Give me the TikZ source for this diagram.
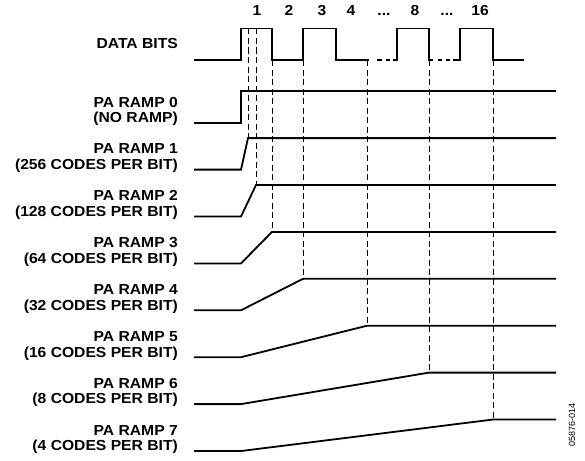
\documentclass[tikz,border=0pt]{standalone}
\usepackage{fontspec}
\setmainfont[FakeStretch=1.08]{Liberation Sans}
\newfontfamily\idfont{Liberation Sans}
\usetikzlibrary{positioning}

\begin{document}
\begin{tikzpicture}[
    x=1pt, y=-1pt,
    sig/.style={line width=1.8pt, line join=miter},
    guide/.style={line width=0.9pt, dash pattern=on 6pt off 3.5pt},
    lbl/.style={
        font=\fontsize{14.5}{15.5}\selectfont\bfseries, align=right,
        inner sep=0pt, text depth=0pt, anchor=south east
    },
    bitnum/.style={font=\fontsize{14.5}{15.5}\selectfont\bfseries, inner sep=0pt, anchor=base},
]
\useasboundingbox (0,0) rectangle (585,460);

% Data bit levels
\def\lo{60}
\def\hi{28.5}

% Label edge and line start
\def\lx{178}
\def\sx{194}

% ====== BIT NUMBERS ======
\node[bitnum] (n1) at (257,16) {1};
\node[bitnum] (n2) at (289,16) {2};
\node[bitnum] (n3) at (322,16) {3};
\node[bitnum] (n4) at (351,16) {4};
\node[bitnum] (e1) at (384,16) {...};
\node[bitnum] (n8) at (415,16) {8};
\node[bitnum] (e2) at (447,16) {...};
\node[bitnum] (n16) at (480,16) {16};

% ====== DATA BITS ======
\node[lbl] (data) at (\lx,49) {DATA BITS};

\draw[sig] (\sx,\lo) -- (241,\lo) -- (241,\hi) -- (272,\hi) -- (272,\lo) -- (303,\lo)
    -- (303,\hi) -- (336,\hi) -- (336,\lo) -- (369,\lo);
\draw[sig] (377,\lo) -- (382,\lo) (386,\lo) -- (390,\lo);
\draw[sig] (393,\lo) -- (397,\lo) -- (397,\hi) -- (429,\hi) -- (429,\lo) -- (433,\lo);
\draw[sig] (438,\lo) -- (442,\lo) (446,\lo) -- (450,\lo);
\draw[sig] (453,\lo) -- (460,\lo) -- (460,\hi) -- (493,\hi) -- (493,\lo) -- (524,\lo);

% Guide start points
\coordinate (d1) at (248,\hi);
\coordinate (d2) at (256,\hi);
\coordinate (d3) at (272,\lo);
\coordinate (d4) at (303,\lo);
\coordinate (d5) at (367,\lo);
\coordinate (d6) at (429,\lo);
\coordinate (d7) at (493,\lo);

% ====== PA RAMPS ======
\foreach \k/\xe/\sub in {0/241/NO RAMP, 1/248/256 CODES PER BIT, 2/256/128 CODES PER BIT,
    3/272/64 CODES PER BIT, 4/303/32 CODES PER BIT, 5/367/16 CODES PER BIT,
    6/429/8 CODES PER BIT, 7/493/4 CODES PER BIT} {
    \pgfmathsetmacro\ylo{122.7+46.9*\k}
    \pgfmathsetmacro\yhi{\ylo-31.5}
    \node[lbl] (ramp\k) at (\lx,\ylo) {PA RAMP \k\\(\sub)};
    \coordinate (r\k) at (\xe,\yhi);
    \draw[sig] (\sx,\ylo) -- (241,\ylo) -- (r\k) -- (556,\yhi);
}

% Dashed guides
\foreach \k in {1,...,7}
    \draw[guide] (d\k) -- (r\k);

% ====== FIGURE ID ======
\node[font=\idfont\fontsize{9}{9}\selectfont, rotate=90] (figid) at (572,425) {05876-014};

\end{tikzpicture}
\end{document}
